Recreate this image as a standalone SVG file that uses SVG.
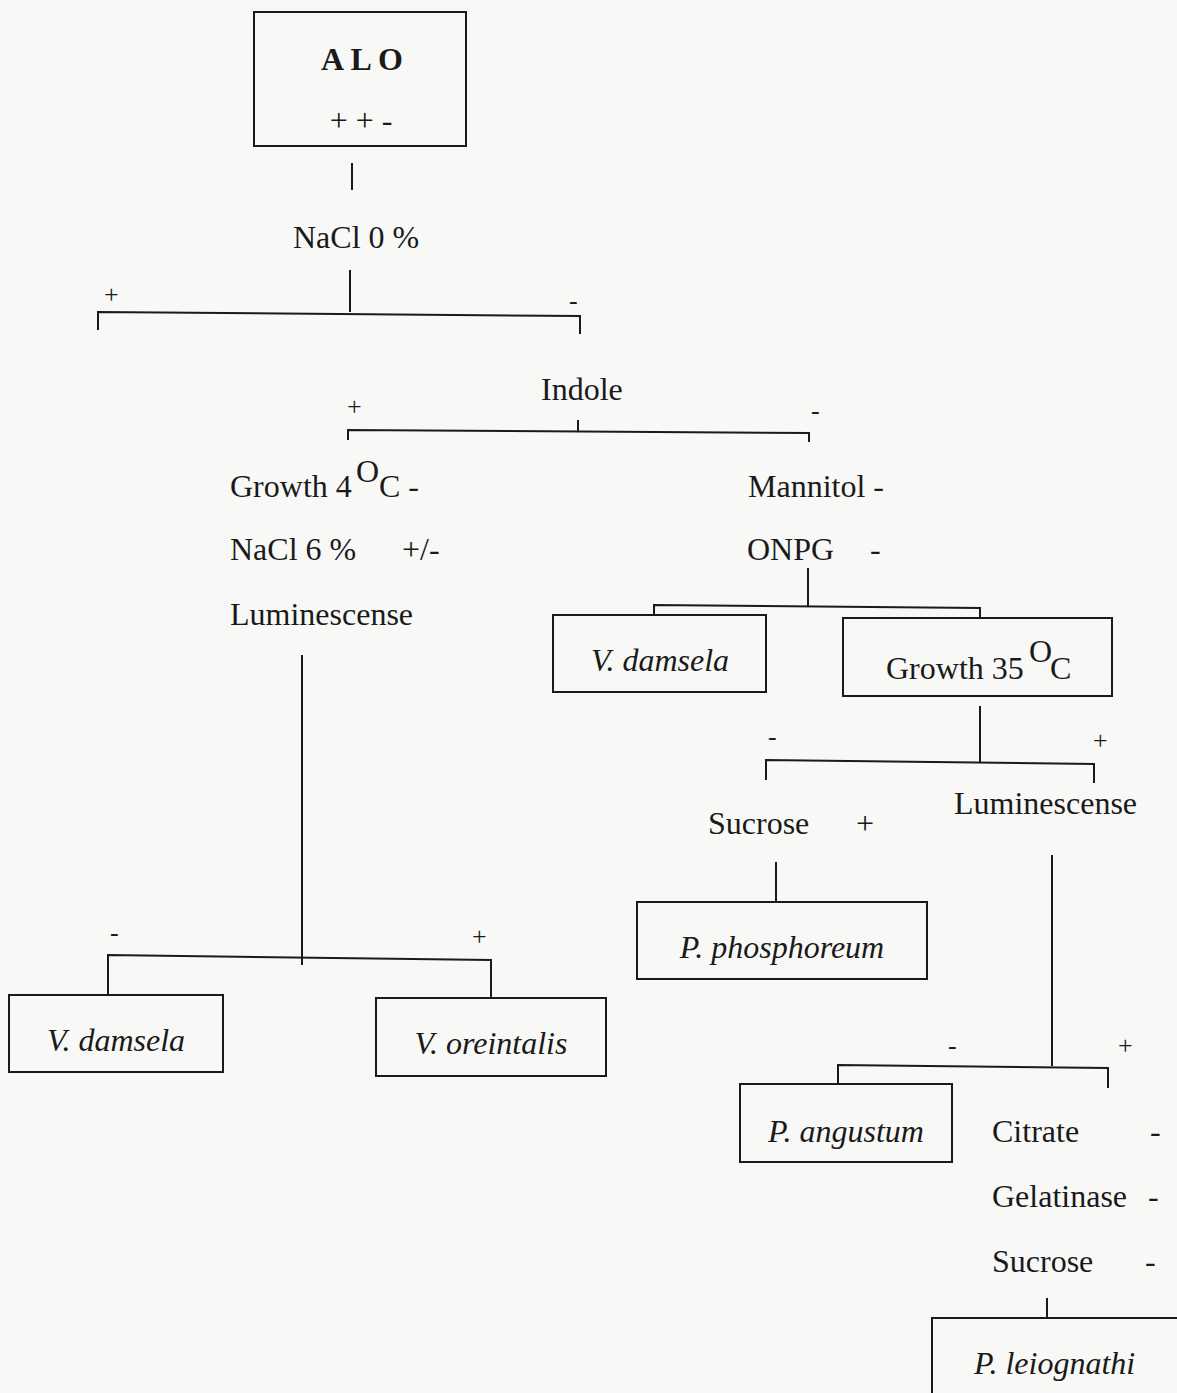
<svg xmlns="http://www.w3.org/2000/svg" width="1177" height="1393" viewBox="0 0 1177 1393">
<style>
.t{font-family:"Liberation Serif","Times New Roman",serif;font-size:32px;fill:#1a1a1a}
.i{font-style:italic}
.s{font-family:"Liberation Serif","Times New Roman",serif;font-size:26px;fill:#1a1a1a}
.b{fill:none;stroke:#1a1a1a;stroke-width:2}
.c{fill:none;stroke:#1a1a1a;stroke-width:2}
</style>
<rect x="0" y="0" width="1177" height="1393" fill="#f8f8f6"/>
<g id="connectors">
<path class="c" d="M352 163V190"/>
<path class="c" d="M350 270V312"/>
<path class="c" d="M98 330V312L580 316V334"/>
<path class="c" d="M578 420V431"/>
<path class="c" d="M348 440V430L809 433V442"/>
<path class="c" d="M302 655V965"/>
<path class="c" d="M108 994V955L491 960V998"/>
<path class="c" d="M808 568V606"/>
<path class="c" d="M654 616V605L980 608V619"/>
<path class="c" d="M980 706V762"/>
<path class="c" d="M766 780V760L1094 764V783"/>
<path class="c" d="M776 862V903"/>
<path class="c" d="M1052 855V1066"/>
<path class="c" d="M838 1085V1065L1108 1068V1088"/>
<path class="c" d="M1047 1298V1319"/>
</g>
<g id="labels">
<text class="s" x="104" y="303">+</text>
<text class="s" x="569" y="309">-</text>
<text class="s" x="347" y="415">+</text>
<text class="s" x="811" y="419">-</text>
<text class="s" x="110" y="941">-</text>
<text class="s" x="472" y="945">+</text>
<text class="s" x="768" y="745">-</text>
<text class="s" x="1093" y="749">+</text>
<text class="s" x="948" y="1054">-</text>
<text class="s" x="1118" y="1054">+</text>
</g>
<g id="alo">
<rect class="b" x="254" y="12" width="212" height="134"/>
<text class="t" x="362" y="70" text-anchor="middle" font-weight="bold" font-size="30">A L O</text>
<text class="t" x="361" y="131" text-anchor="middle" font-size="30">+ + -</text>
</g>
<g id="nacl0"><text class="t" x="293" y="248">NaCl 0 %</text></g>
<g id="indole"><text class="t" x="541" y="400">Indole</text></g>
<g id="left-tests">
<text class="t" x="230" y="497">Growth 4</text>
<text class="t" x="356" y="482" font-size="21">O</text>
<text class="t" x="379" y="497">C -</text>
<text class="t" x="230" y="560">NaCl 6 %</text>
<text class="t" x="402" y="560">+/-</text>
<text class="t" x="230" y="625">Luminescense</text>
</g>
<g id="right-tests">
<text class="t" x="748" y="497">Mannitol -</text>
<text class="t" x="747" y="560">ONPG</text>
<text class="t" x="870" y="560">-</text>
</g>
<g id="vdamsela1">
<rect class="b" x="9" y="995" width="214" height="77"/>
<text class="t i" x="116" y="1051" text-anchor="middle">V. damsela</text>
</g>
<g id="voreintalis">
<rect class="b" x="376" y="998" width="230" height="78"/>
<text class="t i" x="491" y="1054" text-anchor="middle">V. oreintalis</text>
</g>
<g id="vdamsela2">
<rect class="b" x="553" y="615" width="213" height="77"/>
<text class="t i" x="660" y="671" text-anchor="middle">V. damsela</text>
</g>
<g id="growth35">
<rect class="b" x="843" y="618" width="269" height="78"/>
<text class="t" x="886" y="679">Growth 35</text>
<text class="t" x="1029" y="662" font-size="20">O</text>
<text class="t" x="1050" y="679">C</text>
</g>
<g id="sucrose1">
<text class="t" x="708" y="834">Sucrose</text>
<text class="t" x="856" y="834">+</text>
</g>
<g id="lumin2"><text class="t" x="954" y="814">Luminescense</text></g>
<g id="pphosphoreum">
<rect class="b" x="637" y="902" width="290" height="77"/>
<text class="t i" x="782" y="958" text-anchor="middle">P. phosphoreum</text>
</g>
<g id="pangustum">
<rect class="b" x="740" y="1084" width="212" height="78"/>
<text class="t i" x="846" y="1142" text-anchor="middle">P. angustum</text>
</g>
<g id="tests3">
<text class="t" x="992" y="1142">Citrate</text>
<text class="t" x="1150" y="1142">-</text>
<text class="t" x="992" y="1207">Gelatinase</text>
<text class="t" x="1148" y="1207">-</text>
<text class="t" x="992" y="1272">Sucrose</text>
<text class="t" x="1145" y="1272">-</text>
</g>
<g id="pleiognathi">
<rect class="b" x="932" y="1318" width="260" height="90"/>
<text class="t i" x="974" y="1374">P. leiognathi</text>
</g>
</svg>
